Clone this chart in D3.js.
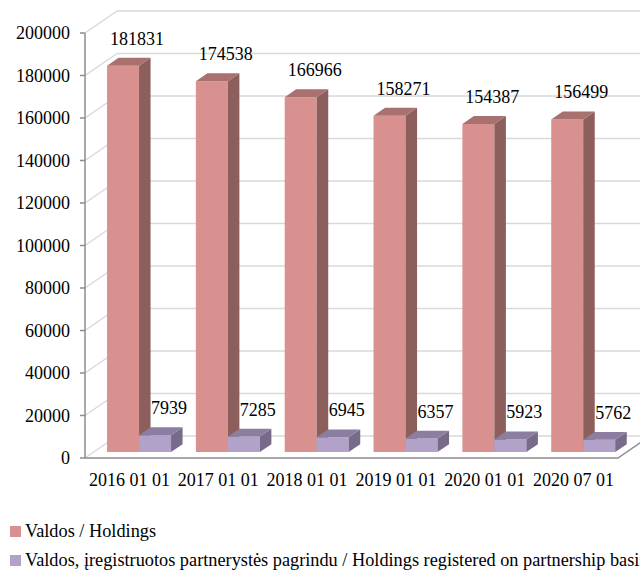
<!DOCTYPE html>
<html>
<head>
<meta charset="utf-8">
<script src="https://cdn.jsdelivr.net/npm/d3@7"></script>
<style>
body { margin: 0; background: #fff; }
text { font-family: "Liberation Serif", "Times New Roman", serif; fill: #000; }
</style>
</head>
<body>
<div id="chart"></div>
<script>
var width = 640,
height = 571;

// data
var categories = ["2016 01 01","2017 01 01","2018 01 01","2019 01 01","2020 01 01","2020 07 01"];
var holdings = [181831, 174538, 166966, 158271, 154387, 156499];
var partnership = [7939, 7285, 6945, 6357, 5923, 5762];
var seriesNames = ["Valdos / Holdings",
    "Valdos, įregistruotos partnerystės pagrindu / Holdings registered on partnership basis"];
var yTicks = [0,20000,40000,60000,80000,100000,120000,140000,160000,180000,200000];

var colors = [
    {front: "#d8918f", side: "#8c5e5c", top: "#a8716f"},
    {front: "#b2a1c8", side: "#776a8a", top: "#8b7ea0"}
];

// 3d depth of the box and position of the bars inside it
var DX = 32, DY = 22;
var zFront = 0.27, zBack = 0.63;

var svg = d3.select('#chart').append('svg')
    .attr('width', width)
    .attr('height', height);

var scaleX = d3.scaleBand().domain(categories).range([85, 618]);
var scaleS = d3.scaleBand().domain([0,1]).range([13.4, 77.4]);
var scaleY = d3.scaleLinear().domain([0,200000]).range([458, 33]);

function proj(x, v, z) {
    return [x + DX*z, scaleY(v) - DY*z];
}

var walls = svg.append('g');

// back wall gridlines
walls.selectAll(".grid").data(yTicks).enter().append("line")
    .attr("class", "grid")
    .attr("x1", proj(85,0,1)[0])
    .attr("x2", width + 20)
    .attr("y1", d => proj(85,d,1)[1])
    .attr("y2", d => proj(85,d,1)[1])
    .attr("stroke", "#d9d9d9")
    .attr("stroke-width", 1.5);

// side wall gridlines
walls.selectAll(".sgrid").data(yTicks.slice(1)).enter().append("line")
    .attr("class", "sgrid")
    .attr("x1", 85)
    .attr("y1", d => scaleY(d))
    .attr("x2", d => proj(85,d,1)[0])
    .attr("y2", d => proj(85,d,1)[1])
    .attr("stroke", "#d9d9d9")
    .attr("stroke-width", 1.5);

// floor
walls.append("path")
    .attr("d", d3.line()([proj(85,0,0), proj(85,0,1)]))
    .attr("stroke", "#d9d9d9").attr("stroke-width", 1.5).attr("fill", "none");
walls.append("path")
    .attr("d", d3.line()([proj(85,0,0), proj(618,0,0), proj(618,0,1), [width+20, proj(618,0,1)[1]]]))
    .attr("stroke", "#8c8c8c").attr("stroke-width", 1.5).attr("fill", "none");

// y axis
var axis = svg.append('g');
axis.append("line")
    .attr("x1", 85).attr("x2", 85)
    .attr("y1", scaleY(200000)).attr("y2", scaleY(0))
    .attr("stroke", "#8c8c8c").attr("stroke-width", 1.5);
axis.selectAll(".tick").data(yTicks).enter().append("line")
    .attr("x1", 80).attr("x2", 85)
    .attr("y1", d => scaleY(d)).attr("y2", d => scaleY(d))
    .attr("stroke", "#8c8c8c").attr("stroke-width", 1.5);
axis.selectAll(".tlabel").data(yTicks).enter().append("text")
    .attr("x", 70)
    .attr("y", d => scaleY(d))
    .attr("dy", "0.35em")
    .attr("text-anchor", "end")
    .attr("font-size", "18px")
    .text(d => d3.format("d")(d));

// bars
var bars = [];
categories.forEach((c,i) => {
    bars.push({cat: c, s: 0, v: holdings[i]});
    bars.push({cat: c, s: 1, v: partnership[i]});
});

var g = svg.append('g');
var barG = g.selectAll(".bar").data(bars).enter().append("g").attr("class", "bar");
var line = d3.line();

function x0(d) { return scaleX(d.cat) + scaleS(d.s); }
function x1(d) { return x0(d) + scaleS.bandwidth(); }

barG.append("path")
    .attr("d", d => line([proj(x0(d),d.v,zFront), proj(x1(d),d.v,zFront), proj(x1(d),0,zFront), proj(x0(d),0,zFront)]) + "Z")
    .attr("fill", d => colors[d.s].front);
barG.append("path")
    .attr("d", d => line([proj(x1(d),d.v,zFront), proj(x1(d),d.v,zBack), proj(x1(d),0,zBack), proj(x1(d),0,zFront)]) + "Z")
    .attr("fill", d => colors[d.s].side);
barG.append("path")
    .attr("d", d => line([proj(x0(d),d.v,zFront), proj(x0(d),d.v,zBack), proj(x1(d),d.v,zBack), proj(x1(d),d.v,zFront)]) + "Z")
    .attr("fill", d => colors[d.s].top);

// value labels
g.selectAll(".vlabel").data(bars).enter().append("text")
    .attr("class", "vlabel")
    .attr("x", d => proj((x0(d)+x1(d))/2, d.v, zFront)[0] + 14)
    .attr("y", d => proj(x0(d), d.v, zFront)[1] - 21)
    .attr("text-anchor", "middle")
    .attr("font-size", "18px")
    .text(d => d.v);

// category labels
svg.selectAll(".clabel").data(categories).enter().append("text")
    .attr("x", d => scaleX(d) + scaleX.bandwidth()/2)
    .attr("y", 486)
    .attr("text-anchor", "middle")
    .attr("font-size", "18px")
    .text(d => d);

// legend
var legend = svg.append('g').attr("class","legend");
var lg = legend.selectAll(".litem").data(seriesNames).enter().append("g")
    .attr("transform", (d,i) => "translate(10," + (526 + 29*i) + ")");
lg.append("rect")
    .attr("width", 11).attr("height", 11)
    .attr("fill", (d,i) => colors[i].front);
lg.append("text")
    .attr("x", 15)
    .attr("y", 11)
    .attr("font-size", "18.3px")
    .text(d => d);
</script>
</body>
</html>
